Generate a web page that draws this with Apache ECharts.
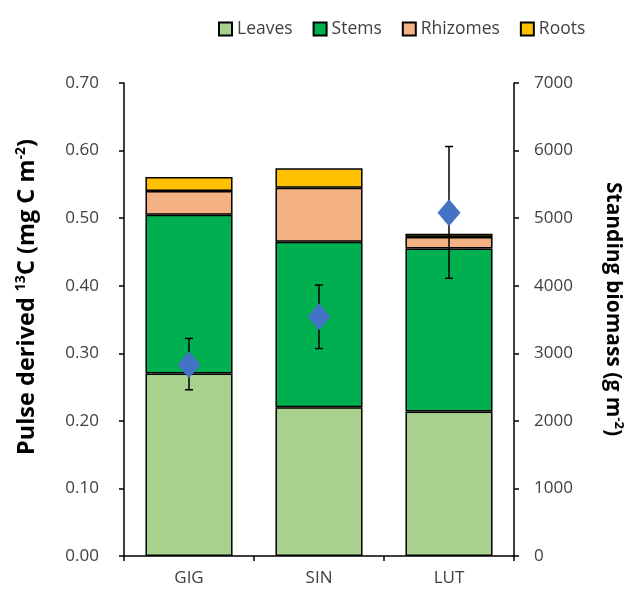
<!DOCTYPE html>
<html>
<head>
<meta charset="utf-8">
<script src="https://cdn.jsdelivr.net/npm/echarts@6/dist/echarts.min.js"></script>
<style>html,body{margin:0;padding:0;background:#fff;}#c{width:627px;height:594px;}</style>
</head>
<body>
<div id="c"></div>
<script>
const categories = ['GIG', 'SIN', 'LUT'];
const leaves = [0.270, 0.220, 0.214];
const stems = [0.235, 0.245, 0.241];
const rhizomes = [0.035, 0.080, 0.017];
const roots = [0.021, 0.029, 0.005];
const biomass = [2830, 3540, 5080];
const biomassLow = [2460, 3070, 4110];
const biomassHigh = [3220, 4010, 6060];
const leftTicks = [0, 0.7, 0.1];
const rightTicks = [0, 7000, 1000];

const FONT = '"Open Sans", sans-serif';
const chart = echarts.init(document.getElementById('c'));
const border = { borderColor: '#000', borderWidth: 1.5 };
function barSeries(name, data, color) {
  return { name, type: 'bar', stack: 'total', data, barCategoryGap: '33%',
    itemStyle: Object.assign({ color }, border), z: 2 };
}
chart.setOption({
  animation: false,
  textStyle: { fontFamily: FONT },
  legend: {
    left: 213, top: 15, itemWidth: 13, itemHeight: 13, itemGap: 20,
    icon: 'rect',
    textStyle: { fontSize: 17.5, color: '#404040', fontFamily: FONT },
    data: ['Leaves', 'Stems', 'Rhizomes', 'Roots']
  },
  grid: { left: 124, right: 113, top: 83, bottom: 38, containLabel: false },
  xAxis: {
    type: 'category', data: categories,
    axisLine: { lineStyle: { color: '#000', width: 1.5 } },
    axisTick: { show: true, length: 5, inside: false, lineStyle: { color: '#000', width: 1.5 } },
    axisLabel: { color: '#404040', fontSize: 17, margin: 14, fontFamily: FONT }
  },
  yAxis: [
    { type: 'value', min: leftTicks[0], max: leftTicks[1], interval: leftTicks[2], position: 'left',
      splitLine: { show: false },
      axisLine: { show: true, lineStyle: { color: '#000', width: 1.5 } },
      axisTick: { show: true, length: 5, lineStyle: { color: '#000', width: 1.5 } },
      axisLabel: { color: '#404040', fontSize: 17, margin: 25, fontFamily: FONT,
        formatter: v => v.toFixed(2) } },
    { type: 'value', min: rightTicks[0], max: rightTicks[1], interval: rightTicks[2], position: 'right',
      splitLine: { show: false },
      axisLine: { show: true, lineStyle: { color: '#000', width: 1.5 } },
      axisTick: { show: true, length: 5, lineStyle: { color: '#000', width: 1.5 } },
      axisLabel: { color: '#404040', fontSize: 17, margin: 20, fontFamily: FONT,
        formatter: v => String(v) } }
  ],
  graphic: [
    { type: 'text', x: 27, y: 297, rotation: Math.PI / 2,
      style: { text: 'Pulse derived {sup|13}C (mg C m{sup|-2})', align: 'center', verticalAlign: 'middle',
        fill: '#000', font: 'bold 23.5px ' + FONT,
        rich: { sup: { fontSize: 14, fontWeight: 'bold', fontFamily: FONT, fill: '#000', padding: [0, 0, 12, 0] } } } },
    { type: 'text', x: 613, y: 309, rotation: -Math.PI / 2,
      style: { text: 'Standing biomass (g m{sup|-2})', align: 'center', verticalAlign: 'middle',
        fill: '#000', font: 'bold 21px ' + FONT,
        rich: { sup: { fontSize: 13, fontWeight: 'bold', fontFamily: FONT, fill: '#000', padding: [0, 0, 11, 0] } } } }
  ],
  series: [
    barSeries('Leaves', leaves, '#a9d18e'),
    barSeries('Stems', stems, '#00b050'),
    barSeries('Rhizomes', rhizomes, '#f4b183'),
    barSeries('Roots', roots, '#ffc000'),
    { name: 'err', type: 'custom', yAxisIndex: 1, z: 5,
      data: categories.map((c, i) => [i, biomassLow[i], biomassHigh[i]]),
      renderItem: function (params, api) {
        const x = api.value(0);
        const lo = api.coord([x, api.value(1)]);
        const hi = api.coord([x, api.value(2)]);
        const w = 4;
        const st = { stroke: '#000', lineWidth: 1.5 };
        return { type: 'group', children: [
          { type: 'line', shape: { x1: lo[0], y1: lo[1], x2: hi[0], y2: hi[1] }, style: st },
          { type: 'line', shape: { x1: lo[0] - w, y1: lo[1], x2: lo[0] + w, y2: lo[1] }, style: st },
          { type: 'line', shape: { x1: hi[0] - w, y1: hi[1], x2: hi[0] + w, y2: hi[1] }, style: st }
        ] };
      } },
    { name: 'Biomass', type: 'scatter', yAxisIndex: 1, z: 6, data: biomass,
      symbol: 'diamond', symbolSize: [23, 27], itemStyle: { color: '#4472c4', opacity: 1 } }
  ]
});
</script>
</body>
</html>
